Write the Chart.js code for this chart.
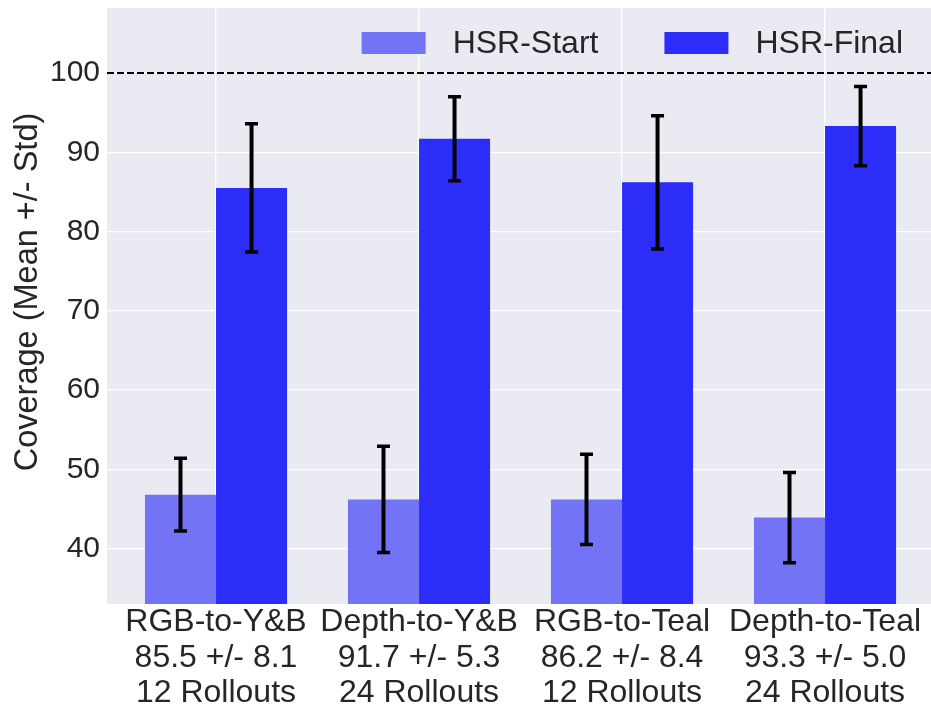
<!DOCTYPE html>
<html><head><meta charset="utf-8">
<script src="https://cdn.jsdelivr.net/npm/chart.js@4.4.1/dist/chart.umd.min.js"></script>
<style>html,body{margin:0;padding:0;background:#fff}</style>
</head><body>
<canvas id="c" width="931" height="707" style="display:block;width:931px;height:707px"></canvas>
<script>
const categories = ['RGB-to-Y&B', 'Depth-to-Y&B', 'RGB-to-Teal', 'Depth-to-Teal'];
const rollouts = [12, 24, 12, 24];
const startMeans = [46.8, 46.2, 46.2, 43.9];
const startStd = [4.6, 6.7, 5.7, 5.7];
const finalMeans = [85.5, 91.7, 86.2, 93.3];
const finalStd = [8.1, 5.3, 8.4, 5.0];
const yTicks = [40, 50, 60, 70, 80, 90, 100];
const refLine = 100;
const seriesNames = ['HSR-Start', 'HSR-Final'];
const yTitle = 'Coverage (Mean +/- Std)';

const xLabels = categories.map((c, i) => [c, finalMeans[i].toFixed(1) + ' +/- ' + finalStd[i].toFixed(1), rollouts[i] + ' Rollouts']);

const FONT = '"Liberation Sans", Arial, sans-serif';
const TXT = '#262626';

const bgPlugin = {
  id: 'bg',
  beforeDraw(chart) {
    const {ctx, chartArea: a} = chart;
    ctx.save(); ctx.fillStyle = '#EAEAF2';
    ctx.fillRect(a.left, a.top, a.right - a.left, a.bottom - a.top);
    ctx.restore();
  }
};

const errPlugin = {
  id: 'err',
  afterDatasetsDraw(chart) {
    const {ctx, chartArea: a} = chart;
    const ys = chart.scales.y;
    const yr = ys.getPixelForValue(refLine);
    ctx.save();
    ctx.strokeStyle = '#000'; ctx.lineWidth = 2; ctx.setLineDash([7, 3]);
    ctx.beginPath(); ctx.moveTo(a.left, yr); ctx.lineTo(a.right, yr); ctx.stroke();
    ctx.restore();
    chart.data.datasets.forEach((ds, di) => {
      const meta = chart.getDatasetMeta(di);
      meta.data.forEach((bar, i) => {
        const m = ds.data[i].y, s = ds.errors[i];
        const x = bar.x;
        const yt = ys.getPixelForValue(m + s), yb = ys.getPixelForValue(m - s);
        ctx.save();
        ctx.strokeStyle = '#000'; ctx.lineWidth = 4;
        ctx.beginPath(); ctx.moveTo(x, yt); ctx.lineTo(x, yb); ctx.stroke();
        ctx.lineWidth = 3.5;
        ctx.beginPath(); ctx.moveTo(x - 6.5, yt); ctx.lineTo(x + 6.5, yt);
        ctx.moveTo(x - 6.5, yb); ctx.lineTo(x + 6.5, yb); ctx.stroke();
        ctx.restore();
      });
    });
  }
};

const legendPlugin = {
  id: 'lg',
  afterDraw(chart) {
    const {ctx} = chart;
    ctx.save();
    ctx.font = '32px ' + FONT;
    const boxW = 64, boxH = 22, gap = 27, itemGap = 66;
    const items = chart.data.datasets.map(d => ({label: d.label, color: d.backgroundColor, w: ctx.measureText(d.label).width}));
    let total = items.reduce((s, it) => s + boxW + gap + it.w, 0) + itemGap * (items.length - 1);
    let x = 903 - total;
    const cy = 43;
    items.forEach(it => {
      ctx.fillStyle = it.color;
      ctx.fillRect(x, cy - boxH / 2, boxW, boxH);
      x += boxW + gap;
      ctx.fillStyle = TXT; ctx.textBaseline = 'middle'; ctx.textAlign = 'left';
      ctx.fillText(it.label, x, cy + 1);
      x += it.w + itemGap;
    });
    // y axis title
    ctx.translate(28, 292);
    ctx.rotate(-Math.PI / 2);
    ctx.textAlign = 'center'; ctx.textBaseline = 'middle'; ctx.fillStyle = TXT;
    ctx.font = '32.5px ' + FONT;
    ctx.fillText(yTitle, 0, 0);
    ctx.restore();
  }
};

new Chart(document.getElementById('c'), {
  type: 'bar',
  data: {
    datasets: [
      {label: seriesNames[0], data: startMeans.map((v, i) => ({x: i, y: v})), errors: startStd,
       backgroundColor: '#7373f5', borderWidth: 0},
      {label: seriesNames[1], data: finalMeans.map((v, i) => ({x: i, y: v})), errors: finalStd,
       backgroundColor: '#2d2dfa', borderWidth: 0}
    ]
  },
  options: {
    responsive: false,
    animation: false,
    devicePixelRatio: 1,
    layout: {padding: {top: 8, right: 0, left: 0, bottom: 0}},
    datasets: {bar: {categoryPercentage: 0.7, barPercentage: 1.0}},
    plugins: {legend: {display: false}, tooltip: {enabled: false}},
    scales: {
      x: {
        type: 'linear', min: -0.537, max: 3.522, offset: false,
        afterBuildTicks: s => { s.ticks = categories.map((c, i) => ({value: i})); },
        afterFit: s => { s.height = 103; s.paddingLeft = 0; s.paddingRight = 0; },
        grid: {color: '#ffffff', lineWidth: 1.3, drawTicks: false, offset: false},
        border: {display: false},
        ticks: {
          padding: 1, maxRotation: 0, autoSkip: false,
          color: TXT, font: {family: FONT, size: 32, lineHeight: 1.1},
          callback: v => xLabels[v]
        }
      },
      y: {
        min: 33, max: 108.2,
        afterBuildTicks: s => { s.ticks = yTicks.map(v => ({value: v})); },
        afterFit: s => { s.width = 107; s.paddingTop = 0; s.paddingBottom = 0; },
        grid: {color: '#ffffff', lineWidth: 1.3, drawTicks: false},
        border: {display: false},
        title: {display: false},
        ticks: {padding: 7, color: TXT, font: {family: FONT, size: 30}}
      }
    }
  },
  plugins: [bgPlugin, errPlugin, legendPlugin]
});
</script>
</body></html>
